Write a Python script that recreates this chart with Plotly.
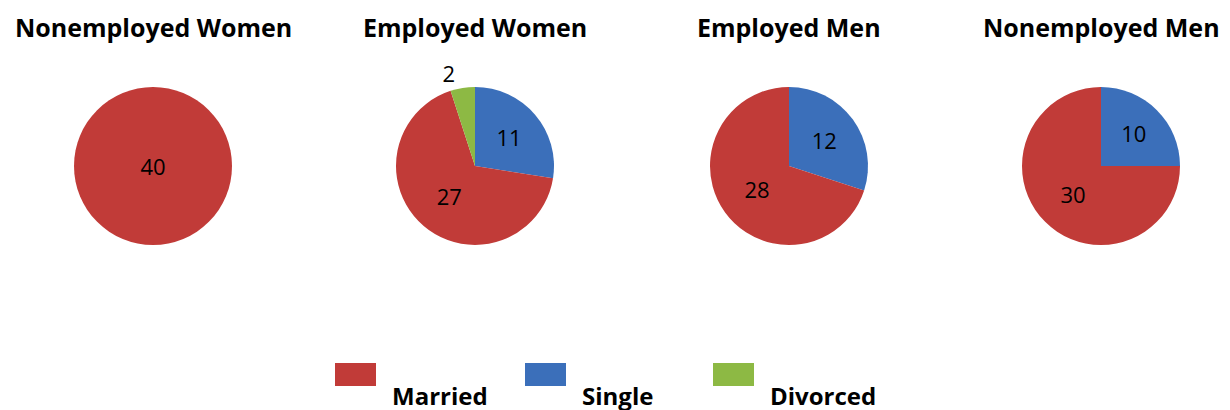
import plotly.graph_objects as go

W, H = 1230, 410
OFF = 8  # page body margin

titles = ["Nonemployed Women", "Employed Women", "Employed Men", "Nonemployed Men"]
categories = ["Married", "Single", "Divorced"]
married = [40, 27, 28, 30]
single = [0, 11, 12, 10]
divorced = [0, 2, 0, 0]

colors = {"Married": "#C13B38", "Single": "#3B6FBA", "Divorced": "#8DB944"}

# pie geometry in screen pixels (centre x, centre y, radius)
centers_x = [153, 475, 789, 1101]
center_y = 166
radius = 79

def px(x):
    return (x - OFF) / W

def py(y):
    return 1 - (y - OFF) / H

fig = go.Figure()
for i, t in enumerate(titles):
    # clockwise from 12 o'clock: Single, Married, Divorced
    labels = ["Single", "Married", "Divorced"]
    vals = [single[i], married[i], divorced[i]]
    total = sum(vals)
    text = [str(v) if v > 0 else "" for v in vals]
    pos = ["outside" if (v > 0 and v / total < 0.08) else "inside" for v in vals]
    cx = centers_x[i]
    fig.add_trace(go.Pie(
        labels=labels, values=vals, text=text, textinfo="text",
        textposition=pos, sort=False, direction="clockwise", rotation=0,
        marker=dict(colors=[colors[l] for l in labels], line=dict(width=0)),
        insidetextfont=dict(color="black", size=22, family="Open Sans"),
        outsidetextfont=dict(color="black", size=22, family="Open Sans"),
        domain=dict(x=[px(cx - radius), px(cx + radius)],
                    y=[py(center_y + radius), py(center_y - radius)]),
        hoverinfo="label+value", showlegend=False,
    ))
    fig.add_annotation(text="<b>%s</b>" % t, x=px(cx), y=1.0,
                       xref="paper", yref="paper", showarrow=False,
                       xanchor="center", yanchor="top",
                       font=dict(size=25, family="Open Sans", color="black"))

# legend drawn as swatches + labels
legend_swatch_x = [335, 525, 713]
for cat, lx in zip(categories, legend_swatch_x):
    fig.add_shape(type="rect", xref="paper", yref="paper",
                  x0=px(lx), x1=px(lx + 41), y0=py(386), y1=py(363),
                  fillcolor=colors[cat], line=dict(width=0))
    fig.add_annotation(text="<b>%s</b>" % cat, x=px(lx + 55), y=py(395),
                       xref="paper", yref="paper", showarrow=False,
                       xanchor="left", yanchor="middle",
                       font=dict(size=24, family="Open Sans", color="black"))

fig.update_layout(
    width=W, height=H,
    margin=dict(l=0, r=0, t=0, b=0),
    paper_bgcolor="white", plot_bgcolor="white",
    font=dict(family="Open Sans", color="black"),
    showlegend=False,
)

fig.write_html("out.html")
